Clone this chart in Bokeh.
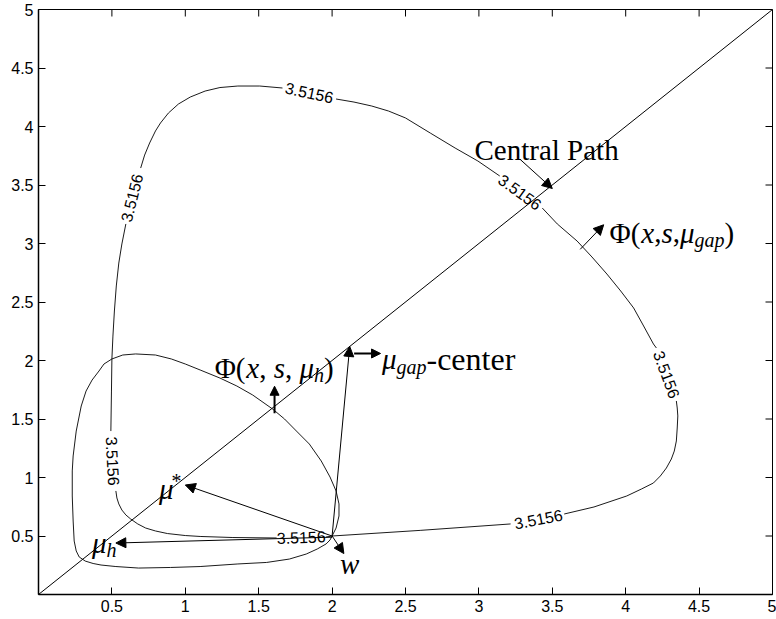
import math
from bokeh.plotting import figure
from bokeh.models import (ColumnDataSource, Arrow, NormalHead, FixedTicker,
                          Range1d, NumeralTickFormatter)
from bokeh.core.properties import value
from bokeh.embed import file_html
from bokeh.resources import INLINE

# ---------------- data ----------------
tick_values = [0.5, 1, 1.5, 2, 2.5, 3, 3.5, 4, 4.5, 5]
x_min, x_max = 0, 5
y_min, y_max = 0, 5

# central path (diagonal)
path_x = [0, 5]
path_y = [0, 5]

# level set of Phi(x,s,mu_gap) -- segments between the contour labels
gap_seg_x = [
    [2.0, 2.6, 3.216],
    [3.581, 3.784, 4.007, 4.108, 4.189, 4.236, 4.277, 4.311, 4.331, 4.345,
     4.351, 4.355, 4.351, 4.345],
    [4.209, 4.189, 4.122, 4.054, 3.966, 3.872, 3.770, 3.669, 3.534, 3.432],
    [3.142, 2.993, 2.838, 2.669, 2.5, 2.385, 2.270, 2.149, 2.027],
    [1.662, 1.507, 1.358, 1.236, 1.135, 1.034, 0.953, 0.885, 0.831, 0.797,
     0.757, 0.723, 0.696],
    [0.595, 0.568, 0.547, 0.530, 0.517, 0.507, 0.5, 0.497, 0.493],
    [0.527, 0.534, 0.547, 0.568, 0.595, 0.628, 0.676, 0.730, 0.797, 0.878,
     1.0, 1.101, 1.324, 1.622],
    [1.959, 2.0],
]
gap_seg_y = [
    [0.5, 0.548, 0.603],
    [0.688, 0.748, 0.842, 0.902, 0.953, 1.013, 1.081, 1.158, 1.226, 1.312,
     1.423, 1.526, 1.594, 1.654],
    [2.107, 2.141, 2.295, 2.449, 2.594, 2.739, 2.885, 3.021, 3.167, 3.303],
    [3.577, 3.705, 3.816, 3.944, 4.073, 4.132, 4.175, 4.209, 4.235],
    [4.329, 4.346, 4.346, 4.333, 4.303, 4.252, 4.192, 4.115, 4.030, 3.962,
     3.859, 3.756, 3.645],
    [3.167, 2.996, 2.833, 2.637, 2.423, 2.209, 2.013, 1.739, 1.397],
    [0.885, 0.825, 0.774, 0.722, 0.680, 0.645, 0.603, 0.568, 0.543, 0.521,
     0.504, 0.496, 0.487, 0.483],
    [0.491, 0.5],
]

# contour label values
contour_level = "3.5156"
clabel_x = [0.635, 1.845, 3.28, 4.28, 3.405, 1.79, 0.507]
clabel_y = [3.39, 4.29, 3.44, 1.88, 0.645, 0.49, 1.14]
clabel_deg = [76, -12, -36, -70, 11, 2, -87]

# level set of Phi(x,s,mu_h)
h_loop_x = [2.0, 2.027, 2.047, 2.047, 2.027, 1.986, 1.926, 1.845, 1.757, 1.676,
            1.595, 1.459, 1.351, 1.236, 1.101, 1.0, 0.905, 0.797, 0.662, 0.574,
            0.5, 0.446, 0.412, 0.365, 0.324, 0.291, 0.257, 0.236, 0.230, 0.230,
            0.236, 0.243, 0.257, 0.277, 0.318, 0.372, 0.426, 0.527, 0.682, 0.899,
            1.101, 1.358, 1.554, 1.709, 1.824, 1.899, 1.959, 1.986, 2.0]
h_loop_y = [0.5, 0.568, 0.671, 0.774, 0.885, 1.004, 1.141, 1.286, 1.397, 1.500,
            1.585, 1.705, 1.782, 1.850, 1.919, 1.970, 2.013, 2.047, 2.056, 2.047,
            2.013, 1.970, 1.910, 1.833, 1.739, 1.611, 1.397, 1.184, 1.056, 0.842,
            0.628, 0.457, 0.372, 0.321, 0.286, 0.265, 0.252, 0.239, 0.226, 0.231,
            0.239, 0.261, 0.274, 0.303, 0.346, 0.389, 0.432, 0.466, 0.5]

# thin arrows: to mu*, to mu_h, to mu_gap-center, to w, central path, Phi_gap
thin_x0 = [2.0, 2.0, 2.0, 2.0, 3.28, 3.69]
thin_y0 = [0.5, 0.49, 0.5, 0.5, 3.72, 2.95]
thin_x1 = [1.0, 0.527, 2.12, 2.08, 3.50, 3.85]
thin_y1 = [0.936, 0.44, 2.12, 0.35, 3.47, 3.16]

# thick arrows: mu_gap-center direction, Phi_h normal
thick_x0 = [2.15, 1.608]
thick_y0 = [2.06, 1.55]
thick_x1 = [2.33, 1.608]
thick_y1 = [2.06, 1.78]

# annotation anchors (left edge, baseline)
ann_names = ["phi_h", "phi_gap", "mu_gap_center", "mu_star", "mu_h", "w"]
ann_x = [1.20, 3.89, 2.34, 0.82, 0.365, 2.054]
ann_y = [1.94, 3.09, 2.01, 0.90, 0.44, 0.26]
central_path_x = 2.97
central_path_y = 3.80

# ---------------- figure ----------------
p = figure(width=776, height=619, x_range=Range1d(x_min, x_max),
           y_range=Range1d(y_min, y_max),
           output_backend="svg", toolbar_location=None,
           min_border_left=38, min_border_right=4, min_border_top=9,
           min_border_bottom=25)
p.xgrid.visible = False
p.ygrid.visible = False
p.outline_line_color = "black"
p.outline_line_width = 1
p.background_fill_color = "white"
p.border_fill_color = "white"

for ax in (p.xaxis[0], p.yaxis[0]):
    ax.ticker = FixedTicker(ticks=tick_values)
    ax.formatter = NumeralTickFormatter(format="0.[0]")
    ax.major_tick_in = 7
    ax.major_tick_out = 0
    ax.minor_tick_line_color = None
    ax.axis_line_width = 1.5
    ax.major_tick_line_width = 1
    ax.major_label_text_font = "Liberation Sans"
    ax.major_label_text_font_size = "16px"
    ax.major_label_text_color = "black"
    ax.major_label_standoff = 5

# inward ticks on the top and right frame edges
p.ray(x=tick_values, y=[y_max] * len(tick_values), length=7,
      length_units="screen", angle=-math.pi / 2, line_color="black", line_width=1)
p.ray(x=[x_max] * len(tick_values), y=tick_values, length=7,
      length_units="screen", angle=math.pi, line_color="black", line_width=1)

# central path
p.line(path_x, path_y, line_color="black", line_width=1)

# contours
p.multi_line(xs=gap_seg_x, ys=gap_seg_y, line_color="black", line_width=0.9)
p.line(h_loop_x, h_loop_y, line_color="black", line_width=0.9)

# contour labels
p.text(x=clabel_x, y=clabel_y, text=[contour_level] * len(clabel_x),
       angle=[math.radians(a) for a in clabel_deg],
       text_align="center", text_baseline="middle",
       text_font=value("Liberation Sans"), text_font_size="16px",
       text_color="black")

# arrows
thin_src = ColumnDataSource(dict(x0=thin_x0, y0=thin_y0, x1=thin_x1, y1=thin_y1))
p.add_layout(Arrow(source=thin_src, x_start="x0", y_start="y0", x_end="x1", y_end="y1",
                   line_color="black", line_width=1,
                   end=NormalHead(size=10, fill_color="black", line_color="black", line_width=1)))
thick_src = ColumnDataSource(dict(x0=thick_x0, y0=thick_y0, x1=thick_x1, y1=thick_y1))
p.add_layout(Arrow(source=thick_src, x_start="x0", y_start="y0", x_end="x1", y_end="y1",
                   line_color="black", line_width=2,
                   end=NormalHead(size=9, fill_color="black", line_color="black", line_width=1)))

# ---------------- math-like text ----------------
F = 29
SUB = 20
W_R = {'Φ': 0.76, '(': 0.333, ')': 0.333, ',': 0.25, ' ': 0.25, '-': 0.333,
       'c': 0.48, 'e': 0.48, 'n': 0.55, 't': 0.32, 'r': 0.38}
W_I = {'x': 0.444, 's': 0.389, 'μ': 0.5, 'h': 0.5, 'g': 0.5, 'a': 0.5,
       'p': 0.5, 'w': 0.667, '*': 0.5}

pieces = {
    "phi_h": [("Φ(", "r"), ("x", "i"), (", ", "r"), ("s", "i"), (", ", "r"),
              ("μ", "i"), ("h", "sub"), (")", "r")],
    "phi_gap": [("Φ(", "r"), ("x", "i"), (",", "r"), ("s", "i"), (",", "r"),
                ("μ", "i"), ("gap", "sub"), (")", "r")],
    "mu_gap_center": [("μ", "i"), ("gap", "sub"), ("-center", "rl")],
    "mu_star": [("μ", "i"), ("*", "sup")],
    "mu_h": [("μ", "i"), ("h", "sub")],
    "w": [("w", "i")],
}

tx, ty, tt, txo, tyo, tsz, tst = [], [], [], [], [], [], []
for name, ax0, ay0 in zip(ann_names, ann_x, ann_y):
    off = 0.0
    for s, kind in pieces[name]:
        if kind in ("r", "i"):
            size = F
        elif kind == "rl":
            size = F + 3
        else:
            size = SUB
        table = W_R if kind in ("r", "rl") else W_I
        tx.append(ax0)
        ty.append(ay0)
        tt.append(s)
        txo.append(off if kind != "sup" else off - 3)
        tyo.append(0.25 * F if kind == "sub" else (-0.27 * F if kind == "sup" else 0))
        tsz.append(f"{size}px")
        tst.append("normal" if kind in ("r", "rl") else "italic")
        off += sum(table.get(ch, 0.5) for ch in s) * size

src = ColumnDataSource(dict(x=tx, y=ty, text=tt, xo=txo, yo=tyo, sz=tsz, st=tst))
p.text(x="x", y="y", text="text", x_offset="xo", y_offset="yo",
       text_font_size="sz", text_font_style="st", source=src,
       text_font=value("Liberation Serif"), text_align="left",
       text_baseline="alphabetic", text_color="black")

p.text(x=[central_path_x], y=[central_path_y], text=["Central Path"],
       text_font=value("Liberation Serif"), text_font_size=f"{F}px",
       text_align="left", text_baseline="alphabetic", text_color="black")

open("out.html", "w").write(file_html(p, INLINE))
